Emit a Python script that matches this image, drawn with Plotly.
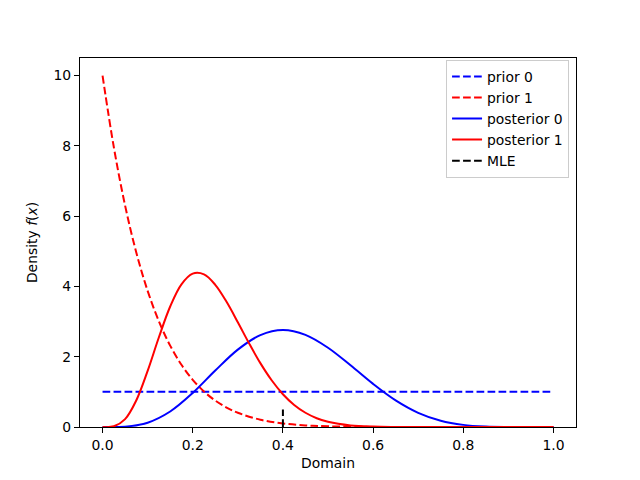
import plotly.graph_objects as go

# ---- data ----
prior0_x = [0.0, 1.0]
prior0_y = [1.0, 1.0]

prior1_x = [0.0, 0.025, 0.05, 0.075, 0.1, 0.125, 0.15, 0.175, 0.2, 0.225, 0.25,
            0.275, 0.3, 0.35, 0.4, 0.45, 0.5, 0.6, 0.7, 0.8, 0.9, 1.0]
prior1_y = [10.0, 7.962, 6.302, 4.958, 3.874, 3.007, 2.316, 1.771, 1.342, 1.009, 0.751,
            0.554, 0.404, 0.207, 0.101, 0.046, 0.0195, 0.0026, 0.0002, 0.0, 0.0, 0.0]

post0_x = [0.0, 0.05, 0.1, 0.15, 0.2, 0.25, 0.3, 0.35, 0.4, 0.45, 0.5,
           0.55, 0.6, 0.65, 0.7, 0.75, 0.8, 0.85, 0.9, 0.95, 1.0]
post0_y = [0.0, 0.0106, 0.1228, 0.4411, 0.9689, 1.606, 2.2013, 2.6144, 2.759, 2.6221, 2.2559,
           1.7553, 1.2262, 0.758, 0.4043, 0.1784, 0.0606, 0.0137, 0.0015, 0.0, 0.0]

post1_x = [0.0, 0.025, 0.05, 0.075, 0.1, 0.125, 0.15, 0.175, 0.2, 0.225, 0.25,
           0.275, 0.3, 0.325, 0.35, 0.375, 0.4, 0.425, 0.45, 0.475, 0.5,
           0.55, 0.6, 0.65, 0.7, 0.8, 0.9, 1.0]
post1_y = [0.0, 0.0207, 0.2245, 0.7616, 1.5961, 2.5538, 3.4282, 4.0603, 4.364, 4.3425, 4.0466,
           3.5623, 2.9811, 2.3795, 1.8171, 1.3296, 0.9331, 0.6281, 0.4052, 0.2503, 0.1479,
           0.0446, 0.0108, 0.002, 0.0003, 0.0, 0.0, 0.0]

mle_x = [0.4, 0.4]
mle_y = [0.0, 0.5]

x_ticks = [0.0, 0.2, 0.4, 0.6, 0.8, 1.0]
y_ticks = [0, 2, 4, 6, 8, 10]

DASH = "7.7px,3.3px"
LW = 2
FONT = "DejaVu Sans"

fig = go.Figure()
fig.add_trace(go.Scatter(x=prior0_x, y=prior0_y, mode="lines", name="prior 0",
                         line=dict(color="blue", width=LW, dash=DASH)))
fig.add_trace(go.Scatter(x=prior1_x, y=prior1_y, mode="lines", name="prior 1",
                         line=dict(color="red", width=LW, dash=DASH, shape="spline")))
fig.add_trace(go.Scatter(x=post0_x, y=post0_y, mode="lines", name="posterior 0",
                         line=dict(color="blue", width=LW, shape="spline")))
fig.add_trace(go.Scatter(x=post1_x, y=post1_y, mode="lines", name="posterior 1",
                         line=dict(color="red", width=LW, shape="spline")))
fig.add_trace(go.Scatter(x=mle_x, y=mle_y, mode="lines", name="MLE",
                         line=dict(color="black", width=LW, dash=DASH)))

axis_common = dict(showgrid=False, zeroline=False, showline=True, linecolor="black",
                   linewidth=1.1, mirror=True, ticks="outside", ticklen=5, tickwidth=1.1,
                   tickcolor="black", tickfont=dict(family=FONT, size=13.9, color="black"))

fig.update_layout(
    width=640, height=480,
    margin=dict(l=80, r=64, t=58, b=53),
    paper_bgcolor="white", plot_bgcolor="white",
    font=dict(family=FONT, size=13.9, color="black"),
    xaxis=dict(range=[-0.05, 1.05], tickvals=x_ticks, tickformat=".1f",
               title=dict(text="Domain", font=dict(family=FONT, size=13.9), standoff=6),
               **axis_common),
    yaxis=dict(range=[0, 10.5], tickvals=y_ticks,
               title=dict(text="Density <i>f</i>(<i>x</i>)", font=dict(family=FONT, size=13.9), standoff=12),
               **axis_common),
    legend=dict(x=0.986, y=0.995, xanchor="right", yanchor="top",
                bgcolor="rgba(255,255,255,0.8)", bordercolor="#cccccc", borderwidth=1,
                font=dict(family=FONT, size=13.9, color="black"),
                tracegroupgap=0, itemwidth=30),
    showlegend=True,
)

fig.write_html("out.html")
